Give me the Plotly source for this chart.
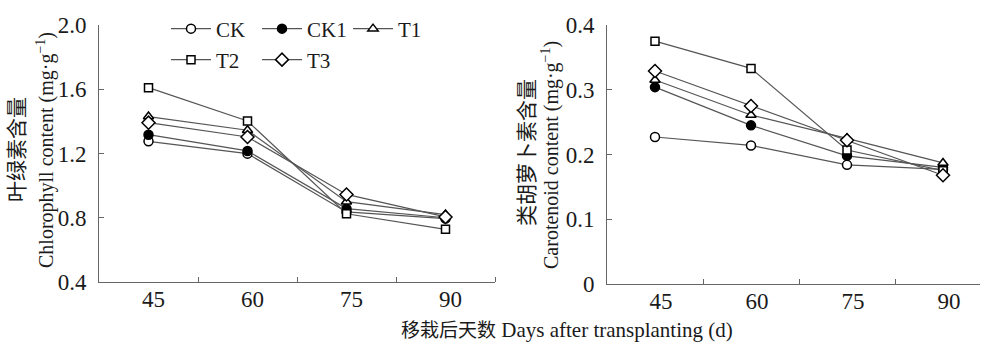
import plotly.graph_objects as go

days = [45, 60, 75, 90]
series_names = ["CK", "CK1", "T1", "T2", "T3"]

chl_CK = [1.276, 1.199, 0.836, 0.795]
chl_CK1 = [1.317, 1.216, 0.857, 0.800]
chl_T1 = [1.430, 1.345, 0.900, 0.820]
chl_T2 = [1.610, 1.402, 0.825, 0.728]
chl_T3 = [1.392, 1.303, 0.945, 0.805]

car_CK = [0.227, 0.214, 0.184, 0.177]
car_CK1 = [0.304, 0.245, 0.198, 0.180]
car_T1 = [0.315, 0.261, 0.225, 0.187]
car_T2 = [0.375, 0.333, 0.207, 0.175]
car_T3 = [0.329, 0.275, 0.222, 0.168]

y_left_ticks = [0.4, 0.8, 1.2, 1.6, 2.0]
y_right_ticks = [0, 0.1, 0.2, 0.3, 0.4]
y_right_labels = ["0", "0.1", "0.2", "0.3", "0.4"]

chl = [chl_CK, chl_CK1, chl_T1, chl_T2, chl_T3]
car = [car_CK, car_CK1, car_T1, car_T2, car_T3]

symbols = ["circle", "circle", "triangle-up", "square", "diamond"]
sizes = [9, 9, 9, 8, 10]
legends = ["legend", "legend", "legend", "legend2", "legend2"]

W, H = 981, 343
LINE = "#555555"
SERIF = "Liberation Serif, Times New Roman, serif"
CJK = "Noto Sans CJK SC"
TXT = "#1a1a1a"

fig = go.Figure()
for i, name in enumerate(series_names):
    mk = dict(symbol=symbols[i], size=sizes[i],
              color="black" if name == "CK1" else "white",
              line=dict(color="black", width=1.5))
    fig.add_trace(go.Scatter(x=days, y=chl[i], name=name, mode="lines+markers",
                             line=dict(color=LINE, width=1.2), marker=mk,
                             xaxis="x", yaxis="y", legend=legends[i]))
    fig.add_trace(go.Scatter(x=days, y=car[i], name=name, mode="lines+markers",
                             line=dict(color=LINE, width=1.2), marker=mk,
                             xaxis="x2", yaxis="y2", showlegend=False))

def px_x(p):
    return p / W

def px_y(p):
    return 1 - p / H

axis_common = dict(showline=True, linecolor="#666666", linewidth=1,
                   showgrid=False, zeroline=False, automargin=False,
                   tickfont=dict(family=SERIF, size=23, color=TXT))

legend_common = dict(orientation="h", xanchor="left", yanchor="middle",
                     font=dict(family=SERIF, size=21, color=TXT),
                     bgcolor="rgba(0,0,0,0)", entrywidth=36, itemwidth=40,
                     tracegroupgap=0)

fig.update_layout(
    width=W, height=H,
    margin=dict(l=0, r=0, t=0, b=0, autoexpand=False),
    paper_bgcolor="white", plot_bgcolor="white",
    font=dict(family=SERIF, color=TXT),
    xaxis=dict(domain=[px_x(99), px_x(495)], range=[37.5, 97.5],
               tickvals=days, ticks="", anchor="y",
               ticklabelshift=5, ticklabelstandoff=-4,
               minor=dict(tickvals=[52.5, 67.5, 82.5, 97.5], ticks="inside",
                          ticklen=5, tickcolor="#666666"),
               **axis_common),
    yaxis=dict(domain=[px_y(282), px_y(25)], range=[0.4, 2.0],
               tickvals=y_left_ticks, tickformat=".1f", ticks="inside",
               ticklen=5, tickcolor="#666666", anchor="x",
               ticklabelstandoff=7, **axis_common),
    xaxis2=dict(domain=[px_x(607), px_x(980)], range=[37.5, 37.5 + 373 / 96 * 15],
                tickvals=days, ticks="", anchor="y2",
                ticklabelshift=6, ticklabelstandoff=-4,
                minor=dict(tickvals=[52.5, 67.5, 82.5], ticks="inside",
                           ticklen=5, tickcolor="#666666"),
                **axis_common),
    yaxis2=dict(domain=[px_y(284), px_y(25)], range=[0, 0.4],
                tickvals=y_right_ticks, ticktext=y_right_labels,
                ticks="inside", ticklen=5, tickcolor="#666666", anchor="x2",
                ticklabelstandoff=7, **axis_common),
    legend=dict(x=px_x(166), y=px_y(29), **legend_common),
    legend2=dict(x=px_x(166), y=px_y(60), **legend_common),
    showlegend=True,
)

annotations = [
    dict(text="叶绿素含量", x=px_x(15), y=px_y(150), textangle=-90, yanchor="middle",
         font=dict(family=CJK, size=21, color=TXT)),
    dict(text="Chlorophyll content (mg·g<sup>−1</sup>)", x=px_x(45), y=px_y(150), textangle=-90,
         yanchor="middle", font=dict(family=SERIF, size=20, color=TXT)),
    dict(text="类胡萝卜素含量", x=px_x(525), y=px_y(153), textangle=-90, yanchor="middle",
         font=dict(family=CJK, size=21, color=TXT)),
    dict(text="Carotenoid content (mg·g<sup>−1</sup>)", x=px_x(551), y=px_y(155), textangle=-90,
         yanchor="middle", font=dict(family=SERIF, size=20, color=TXT)),
    dict(text="<span style='font-family:Noto Sans CJK SC;font-size:19px'>移栽后天数</span> Days after transplanting (d)",
         x=px_x(567), y=px_y(328), yanchor="middle", font=dict(family=SERIF, size=21, color=TXT)),
]
for a in annotations:
    a.update(xref="paper", yref="paper", showarrow=False, xanchor="center")
fig.update_layout(annotations=annotations)

fig.write_html("out.html", config={"displayModeBar": False},
               post_script="document.body.style.margin='0';document.body.style.overflow='hidden';")
